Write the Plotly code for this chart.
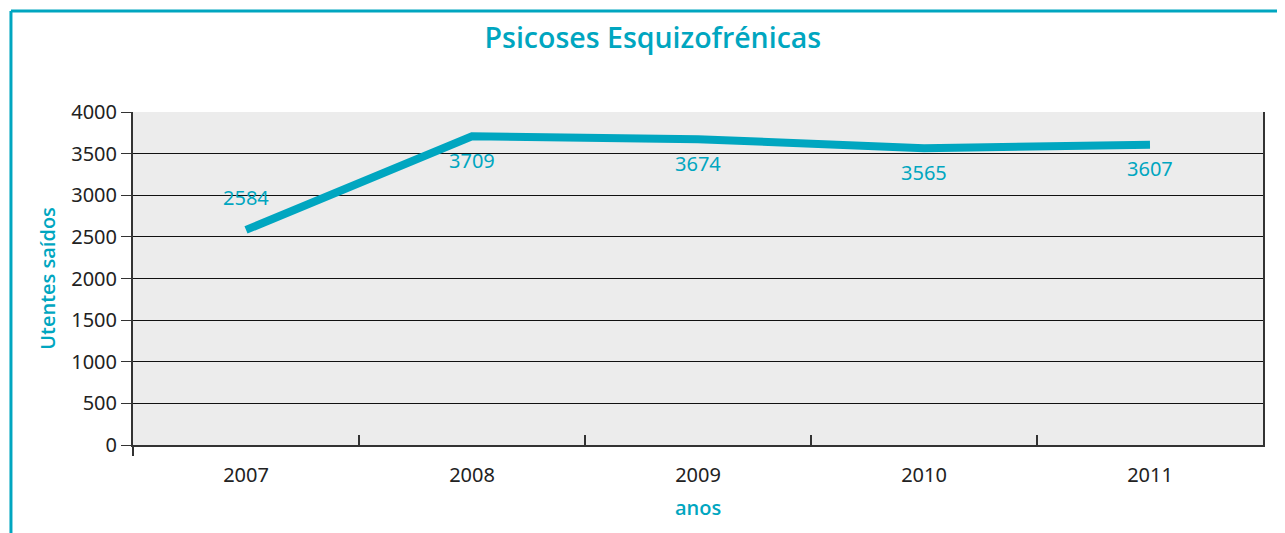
import plotly.graph_objects as go

# data
anos = ["2007", "2008", "2009", "2010", "2011"]
utentes = [2584, 3709, 3674, 3565, 3607]
label_above = [True, False, False, False, False]

teal = "#00a6c0"

fig = go.Figure()
fig.add_trace(go.Scatter(
    x=anos,
    y=utentes,
    mode="lines",
    line={"color": teal, "width": 8},
    hoverinfo="x+y",
))

# value labels (x given as category index)
for i, (v, up) in enumerate(zip(utentes, label_above)):
    fig.add_annotation(
        x=i, y=v, xref="x", yref="y", text=str(v), showarrow=False,
        yanchor="middle", yshift=32 if up else -24,
        font={"color": teal, "size": 20, "family": "Noto Sans"},
    )

# frame lines (top and left) around the chart
fig.add_shape(type="line", xref="paper", yref="paper",
              x0=-0.108, x1=1.03, y0=1.303, y1=1.303,
              line={"color": teal, "width": 3})
fig.add_shape(type="line", xref="paper", yref="paper",
              x0=-0.108, x1=-0.108, y0=1.303, y1=-0.3,
              line={"color": teal, "width": 3})
# little extension of the y axis below zero
fig.add_shape(type="line", xref="paper", yref="paper",
              x0=0, x1=0, y0=0, y1=-0.033,
              line={"color": "#333333", "width": 2})

semi = {"color": teal, "size": 20, "family": "Open Sans", "weight": 600}

fig.update_layout(
    width=1277,
    height=525,
    paper_bgcolor="white",
    plot_bgcolor="#ececec",
    margin={"l": 125, "r": 22, "t": 104, "b": 88},
    font={"family": "Noto Sans", "color": "#222222", "size": 20},
    showlegend=False,
    title={
        "text": "Psicoses Esquizofrénicas",
        "x": 0.505, "xanchor": "center",
        "y": 0.943, "yanchor": "middle",
        "font": {"color": teal, "size": 28.5, "family": "Open Sans", "weight": 600},
    },
    xaxis={
        "type": "category",
        "showgrid": False,
        "ticks": "inside",
        "tickson": "boundaries",
        "ticklen": 10,
        "tickcolor": "#333333",
        "tickwidth": 1.5,
        "showline": True,
        "linecolor": "#333333",
        "linewidth": 1.5,
        "ticklabelstandoff": 11,
        "title": {"text": "anos", "font": semi, "standoff": 14},
        "range": [-0.5, 4.5],
    },
    yaxis={
        "range": [0, 4000],
        "dtick": 500,
        "showgrid": True,
        "gridcolor": "#111111",
        "gridwidth": 1,
        "zeroline": False,
        "ticks": "outside",
        "ticklen": 10,
        "tickcolor": "#333333",
        "showline": True,
        "mirror": True,
        "linecolor": "#333333",
        "linewidth": 2,
        "title": {"text": "Utentes saídos", "font": semi, "standoff": 10},
    },
)

fig.write_html("out.html")
